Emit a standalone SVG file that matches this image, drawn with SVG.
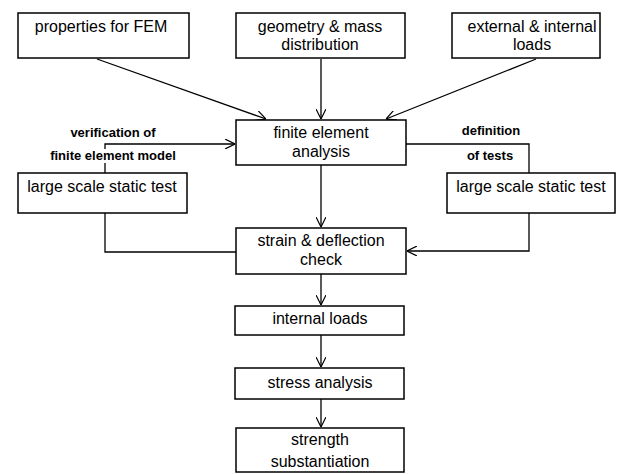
<svg xmlns="http://www.w3.org/2000/svg" width="625" height="474" viewBox="0 0 625 474">
<defs>
<marker id="arr" viewBox="0 0 10 10" refX="10" refY="5" markerWidth="10" markerHeight="10" markerUnits="userSpaceOnUse" orient="auto">
<path d="M0,0 L10,5 L0,10" fill="none" stroke="#000" stroke-width="1.2"/>
</marker>
<style>
rect{fill:#fff;stroke:#000;stroke-width:1.5}
text{font-family:"Liberation Sans",Arial,sans-serif;font-size:16px;fill:#000;text-anchor:middle}
.s{font-size:13px;font-weight:bold}
.c line,.c path,.c polyline{stroke:#000;stroke-width:1.3;fill:none}
</style>
</defs>
<rect x="0" y="0" width="625" height="474" style="fill:#fff;stroke:none"/>
<g class="c" id="connectors">
<line x1="97" y1="59" x2="266" y2="119" marker-end="url(#arr)"/>
<line x1="321" y1="59" x2="321" y2="119" marker-end="url(#arr)"/>
<line x1="536" y1="59" x2="386" y2="119" marker-end="url(#arr)"/>
<polyline points="105,173 105,144 235,144" marker-end="url(#arr)"/>
<polyline points="406,144 529,144 529,173"/>
<polyline points="105,213 105,252 236,252"/>
<polyline points="529,213 529,251 407,251" marker-end="url(#arr)"/>
<line x1="321" y1="165" x2="321" y2="227" marker-end="url(#arr)"/>
<line x1="321" y1="274" x2="321" y2="305" marker-end="url(#arr)"/>
<line x1="321" y1="335" x2="321" y2="367" marker-end="url(#arr)"/>
<line x1="321" y1="399" x2="321" y2="427" marker-end="url(#arr)"/>
</g>
<g id="label-verification">
<text class="s" x="113" y="137">verification of</text>
<rect x="46" y="149" width="134" height="14" style="stroke:none"/>
<text class="s" x="113" y="160">finite element model</text>
</g>
<g id="label-definition">
<text class="s" x="491" y="135">definition</text>
<rect x="460" y="149" width="60" height="14" style="stroke:none"/>
<text class="s" x="490" y="160">of tests</text>
</g>
<g id="n1"><rect x="18" y="13" width="171" height="45"/><text x="101" y="32">properties for FEM</text></g>
<g id="n2"><rect x="236" y="13" width="169" height="45"/><text x="320" y="32">geometry &amp; mass</text><text x="320" y="50">distribution</text></g>
<g id="n3"><rect x="452" y="13" width="148" height="45"/><text x="532" y="32">external &amp; internal</text><text x="532" y="50">loads</text></g>
<g id="n4"><rect x="236" y="120" width="170" height="45"/><text x="321" y="138">finite element</text><text x="321" y="157">analysis</text></g>
<g id="n5"><rect x="18" y="173" width="169" height="40"/><text x="102" y="192">large scale static test</text></g>
<g id="n6"><rect x="447" y="173" width="168" height="40"/><text x="531" y="192">large scale static test</text></g>
<g id="n7"><rect x="236" y="228" width="170" height="46"/><text x="321" y="246">strain &amp; deflection</text><text x="321" y="265">check</text></g>
<g id="n8"><rect x="235" y="306" width="169" height="29"/><text x="320" y="324">internal loads</text></g>
<g id="n9"><rect x="235" y="368" width="169" height="31"/><text x="320" y="388">stress analysis</text></g>
<g id="n10"><rect x="236" y="428" width="168" height="44"/><text x="320" y="445">strength</text><text x="320" y="467">substantiation</text></g>
</svg>
